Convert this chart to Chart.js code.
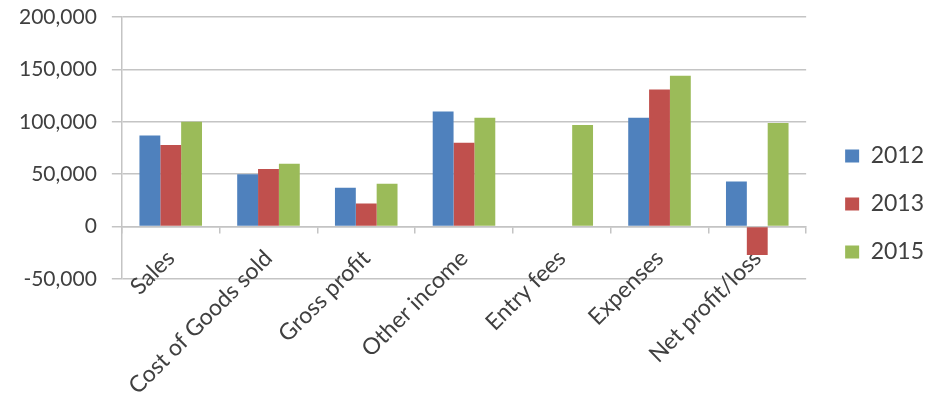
<!DOCTYPE html>
<html>
<head>
<meta charset="utf-8">
<script src="https://cdn.jsdelivr.net/npm/chart.js@4/dist/chart.umd.min.js"></script>
<style>
  html, body { margin: 0; padding: 0; background: #fff; }
  #wrap { width: 934px; height: 408px; }
</style>
</head>
<body>
<div id="wrap"><canvas id="chart"></canvas></div>
<script>
// chart data
const categories = ['Sales', 'Cost of Goods sold', 'Gross profit', 'Other income', 'Entry fees', 'Expenses', 'Net profit/loss'];
const years = ['2012', '2013', '2015'];
const values2012 = [87000, 50000, 37000, 110000, null, 104000, 43000];
const values2013 = [78000, 55000, 22000, 80000, null, 131000, -27000];
const values2015 = [100000, 60000, 41000, 104000, 97000, 144000, 99000];
const yTicks = [-50000, 0, 50000, 100000, 150000, 200000];

const colors = ['#4F81BD', '#C0504D', '#9BBB59'];
const gridColor = '#c4c4c4';
const textColor = '#404040';
const font = "Lato, 'Open Sans', sans-serif";

const series = [values2012, values2013, values2015];

// empty axes used only to reserve room (below the plot for the labels, right of it before the legend)
const spacer = (size, horizontal) => ({
    display: true,
    grid: { display: false },
    ticks: { display: false },
    border: { display: false },
    afterFit: (s) => {
        if (horizontal) s.height = size; else s.width = size;
    }
});

const ctx = document.getElementById('chart').getContext('2d');
const chart = new Chart(ctx, {
    type: 'bar',
    data: {
        labels: categories,
        datasets: series.map((vals, i) => ({
            label: years[i],
            data: vals,
            xAxisID: 'x',
            yAxisID: 'y',
            backgroundColor: colors[i],
            borderWidth: 0,
            categoryPercentage: 0.64,
            barPercentage: 1.0
        }))
    },
    options: {
        responsive: true,
        maintainAspectRatio: false,
        animation: false,
        devicePixelRatio: 1,
        layout: {
            padding: { left: 4, top: 0, right: 0, bottom: 0 }
        },
        plugins: {
            legend: {
                position: 'right',
                align: 'center',
                labels: {
                    boxWidth: 14,
                    boxHeight: 13,
                    padding: 25,
                    color: textColor,
                    font: { family: font, size: 23 }
                }
            },
            tooltip: { enabled: false }
        },
        scales: {
            x: {
                position: { y: 0 },
                grid: {
                    display: true,
                    drawOnChartArea: false,
                    offset: true,
                    tickLength: 6,
                    color: gridColor,
                    lineWidth: 1.5
                },
                border: { display: true, color: gridColor, width: 1.5 },
                ticks: {
                    maxRotation: 45,
                    minRotation: 45,
                    padding: 12,
                    color: textColor,
                    font: { family: font, size: 23 }
                }
            },
            xSpace: Object.assign({ type: 'category', position: 'bottom' }, spacer(129, true)),
            y: {
                position: 'left',
                min: -50000,
                max: 200000,
                afterBuildTicks: (scale) => {
                    scale.ticks = yTicks.map(v => ({ value: v }));
                },
                grid: {
                    color: gridColor,
                    lineWidth: 1.5,
                    tickLength: 10
                },
                border: { display: true, color: gridColor, width: 1.5 },
                ticks: {
                    padding: 15,
                    color: textColor,
                    font: { family: font, size: 21, lineHeight: 0.2 },
                    callback: (v) => v.toLocaleString('en-US')
                }
            },
            ySpace: Object.assign({ type: 'linear', position: 'right' }, spacer(14, false))
        }
    }
});
</script>
</body>
</html>
